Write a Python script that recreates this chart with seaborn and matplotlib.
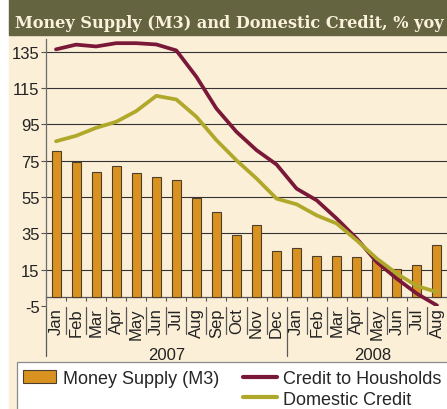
import matplotlib
matplotlib.use("Agg")
import matplotlib.pyplot as plt
import matplotlib.transforms as mtransforms
from matplotlib.patches import Rectangle
from matplotlib.lines import Line2D
import seaborn as sns
import pandas as pd

months = ['Jan', 'Feb', 'Mar', 'Apr', 'May', 'Jun', 'Jul', 'Aug', 'Sep', 'Oct', 'Nov', 'Dec',
          'Jan', 'Feb', 'Mar', 'Apr', 'May', 'Jun', 'Jul', 'Aug']
years = ['2007', '2008']
year_months = [12, 8]
money_supply = [80.1, 74.4, 68.9, 72.2, 68.1, 66.1, 64.4, 54.3, 47.0, 34.3, 39.4, 25.1,
                27.1, 22.5, 22.5, 22.0, 20.5, 15.2, 17.4, 28.8]
households = [136.3, 138.9, 137.9, 139.7, 139.7, 139.0, 135.7, 121.2, 103.7, 90.9, 80.8, 72.9,
              59.6, 53.2, 43.1, 32.1, 19.2, 10.0, 1.8, -4.7]
domestic = [85.7, 88.7, 93.1, 96.4, 102.3, 110.7, 108.7, 99.2, 86.3, 75.2, 65.2, 54.1,
            51.0, 44.9, 40.4, 31.1, 21.1, 12.8, 6.0, 2.7]
yticks = [-5, 15, 35, 55, 75, 95, 115, 135]

title = 'Money Supply (M3) and Domestic Credit, % yoy'
lbl_m3 = 'Money Supply (M3)'
lbl_hh = 'Credit to Housholds'
lbl_dc = 'Domestic Credit'

CREAM = '#fcefd8'
BAR = '#d9921f'
MAROON = '#7a1838'
OLIVE = '#b0a82a'
GRID = '#333333'

df = pd.DataFrame({'idx': range(len(months)), 'm3': money_supply,
                   'hh': households, 'dc': domestic})

sns.set_style('white')
plt.rcParams['font.family'] = ['Liberation Sans', 'DejaVu Sans']

W, H = 447, 410
fig = plt.figure(figsize=(W / 100, H / 100), dpi=100)
fig.patch.set_facecolor('white')

# background panels (pixel -> figure coords)
def px(x0, y0, x1, y1):
    return (x0 / W, 1 - y1 / H, (x1 - x0) / W, (y1 - y0) / H)

x, y, w, h = px(9, 36, 447, 410)
fig.patches.append(Rectangle((x, y), w, h, transform=fig.transFigure, color=CREAM, zorder=-2))
x, y, w, h = px(9, 0, 447, 36)
fig.patches.append(Rectangle((x, y), w, h, transform=fig.transFigure, color='#646440', zorder=-1))
x, y, w, h = px(17, 363, 460, 420)
fig.patches.append(Rectangle((x, y), w, h, transform=fig.transFigure, facecolor='white',
                             edgecolor='#8a8a8a', lw=0.9, zorder=-1))
fig.text(15 / W, 1 - 28 / H, title, family='DejaVu Serif', weight='bold', fontsize=11.6,
         color='#fbf1dc', va='baseline', ha='left', zorder=3)

ax = fig.add_axes([46 / W, 1 - 307 / H, 1 - 46 / W, (307 - 40) / H])
ax.set_facecolor('none')
ax.set_zorder(2)

sns.barplot(data=df, x='idx', y='m3', color=BAR, width=0.45, edgecolor='#4d3f30',
            linewidth=0.8, saturation=1, ax=ax, zorder=3)
sns.lineplot(data=df, x='idx', y='hh', color=MAROON, lw=2.7, ax=ax, zorder=4)
sns.lineplot(data=df, x='idx', y='dc', color=OLIVE, lw=2.7, ax=ax, zorder=4)

ax.set_xlim(-0.5, len(months) - 0.5)
ax.set_ylim(-5, 142)
ax.set_yticks(yticks)
ax.set_yticklabels([str(t) for t in yticks], fontsize=12, color='#222222')
ax.tick_params(axis='y', length=3.5, width=0.8, color='#555555', pad=1, direction='out', left=True)
ax.set_xlabel('')
ax.set_ylabel('')
for t in yticks[1:]:
    ax.axhline(t, color=GRID, lw=0.8, zorder=1)

for s in ['top', 'right']:
    ax.spines[s].set_visible(False)
ax.spines['left'].set_color('#6b6b6b')
ax.spines['left'].set_linewidth(0.9)
ax.spines['bottom'].set_position(('data', 0))
ax.spines['bottom'].set_color('#555555')
ax.spines['bottom'].set_linewidth(0.9)
ax.spines['bottom'].set_zorder(2)

ax.set_xticks(range(len(months)))
ax.set_xticklabels([])
ax.tick_params(axis='x', which='major', length=0)
ax.set_xticks([i - 0.5 for i in range(len(months) + 1)], minor=True)
ax.tick_params(axis='x', which='minor', length=3, width=0.8, color='#555555', direction='out', bottom=True)

trans = mtransforms.blended_transform_factory(ax.transData, ax.transAxes)
for i, m in enumerate(months):
    ax.text(i, -0.005, m, rotation=90, ha='center', va='top', fontsize=12,
            color='#222222', transform=trans)

sep_col = '#5a5a5a'
start = 0
for yr, n in zip(years, year_months):
    ax.plot([start - 0.5, start - 0.5], [-0.004, -0.188], color=sep_col, lw=0.9,
            transform=trans, clip_on=False)
    for k in range(start + 1, start + n):
        ax.plot([k - 0.5, k - 0.5], [-0.004, -0.105], color=sep_col, lw=0.9,
                transform=trans, clip_on=False)
    mid = start + (n - 1) / 2 if yr == years[0] else 15.8
    ax.text(mid, -0.18, yr, ha='center', va='center', fontsize=12, color='#222222',
            transform=trans)
    start += n

handles = [Rectangle((0, 0), 1, 1, facecolor=BAR, edgecolor='#4d3f30', lw=0.8),
           Line2D([], [], color='none'),
           Line2D([], [], color=MAROON, lw=3),
           Line2D([], [], color=OLIVE, lw=3)]
labels = [lbl_m3, '', lbl_hh, lbl_dc]
fig.legend(handles, labels, ncol=2, loc='upper left', bbox_to_anchor=(23 / W, 1 - 371 / H),
           frameon=False, fontsize=13, handlelength=1.85, handleheight=0.7, handletextpad=0.35,
           labelspacing=0.2, columnspacing=1.35, borderpad=0, borderaxespad=0)

fig.savefig('out.png', dpi=100, facecolor=fig.get_facecolor())
